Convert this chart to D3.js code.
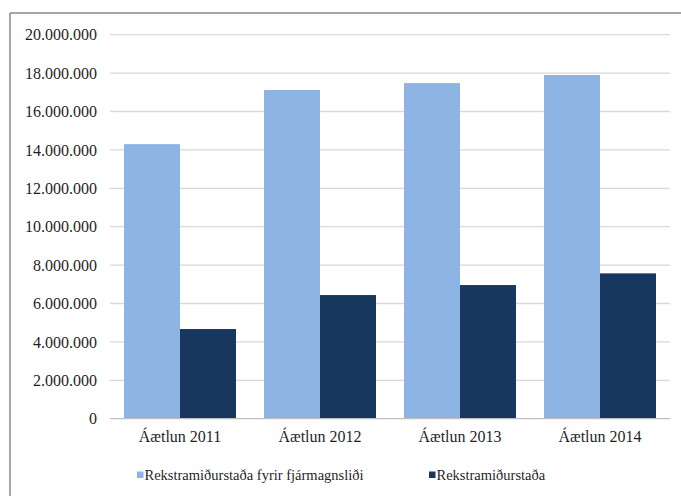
<!DOCTYPE html>
<html>
<head>
<meta charset="utf-8">
<script src="https://cdn.jsdelivr.net/npm/d3@7"></script>
<style>
  html, body { margin: 0; padding: 0; background: #fff; }
  svg { display: block; }
  .serif, .serif text { font-family: "Liberation Serif"; fill: #1f1f1f; }
</style>
</head>
<body>
<svg id="chart" width="681" height="496"></svg>
<script>
const categories = ["Áætlun 2011", "Áætlun 2012", "Áætlun 2013", "Áætlun 2014"];
const seriesNames = ["Rekstramiðurstaða fyrir fjármagnsliði", "Rekstramiðurstaða"];
const seriesA = [14300000, 17120000, 17480000, 17900000];
const seriesB = [4670000, 6440000, 6960000, 7570000];
const yTicks = [0, 2000000, 4000000, 6000000, 8000000, 10000000, 12000000, 14000000, 16000000, 18000000, 20000000];
const colors = ["#8EB4E3", "#17375E"];

const svg = d3.select("#chart");
const W = 681, H = 496;
const plot = { left: 110, right: 670, top: 34.7, bottom: 418.7 };

svg.append("line").attr("x1", 10).attr("x2", W).attr("y1", 13).attr("y2", 13)
  .attr("stroke", "#a6a6a6").attr("stroke-width", 2);
svg.append("line").attr("x1", 10).attr("x2", 10).attr("y1", 13).attr("y2", H)
  .attr("stroke", "#a6a6a6").attr("stroke-width", 2);

const y = d3.scaleLinear().domain([0, 20000000]).range([plot.bottom, plot.top]);
const x0 = d3.scaleBand().domain(categories).range([plot.left, plot.right])
  .paddingInner(0.2).paddingOuter(0.1);
const x1 = d3.scaleBand().domain([0, 1]).range([0, x0.bandwidth()]);

const fmt = v => d3.format(",")(v).replace(/,/g, ".");

svg.append("g").selectAll("line").data(yTicks.filter(d => d > 0)).join("line")
  .attr("x1", plot.left).attr("x2", plot.right)
  .attr("y1", d => y(d)).attr("y2", d => y(d))
  .attr("stroke", "#d9d9d9").attr("stroke-width", 1.3);

const yAxis = svg.append("g").attr("class", "serif").attr("transform", `translate(${plot.left},0)`)
  .call(d3.axisLeft(y).tickValues(yTicks).tickFormat(fmt).tickSize(0).tickPadding(13))
  .attr("font-size", 16);
yAxis.select(".domain").remove();

const series = [seriesA, seriesB];
const groups = svg.append("g").selectAll("g").data(categories).join("g")
  .attr("transform", d => `translate(${x0(d)},0)`);
groups.selectAll("rect").data((d, i) => series.map((s, k) => ({ k, v: s[i] }))).join("rect")
  .attr("x", d => x1(d.k)).attr("width", x1.bandwidth())
  .attr("y", d => y(d.v)).attr("height", d => y(0) - y(d.v))
  .attr("fill", d => colors[d.k]);

svg.append("line").attr("x1", plot.left).attr("x2", plot.right)
  .attr("y1", y(0)).attr("y2", y(0)).attr("stroke", "#bfbfbf").attr("stroke-width", 1.3);

const xAxis = svg.append("g").attr("class", "serif").attr("transform", `translate(0,${plot.bottom})`)
  .call(d3.axisBottom(x0).tickSize(0).tickPadding(12))
  .attr("font-size", 16);
xAxis.select(".domain").remove();

const legendX = [137, 429];
const lg = svg.append("g").attr("class", "serif").attr("font-size", 14.5)
  .selectAll("g").data(seriesNames).join("g")
  .attr("transform", (d, i) => `translate(${legendX[i]},471.5)`);
lg.append("rect").attr("width", 6.5).attr("height", 6.5).style("fill", (d, i) => colors[i]);
lg.append("text").attr("x", 7.5).attr("y", 8.5).text(d => d);
</script>
</body>
</html>
